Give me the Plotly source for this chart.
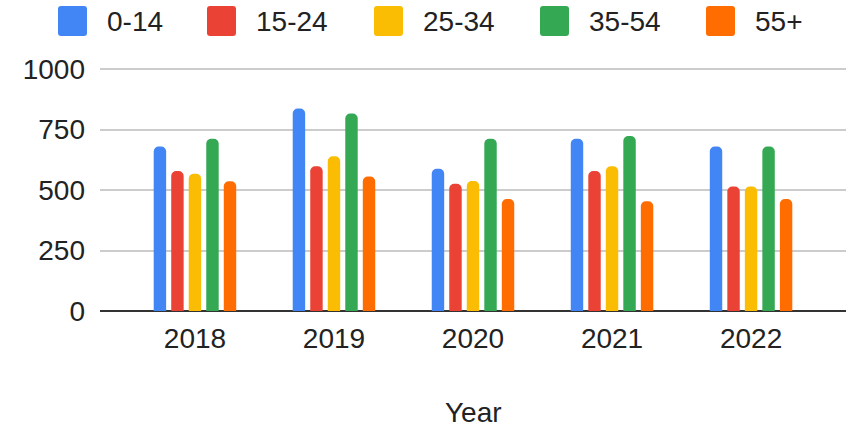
import plotly.graph_objects as go

# Data
years = ["2018", "2019", "2020", "2021", "2022"]
age_groups = ["0-14", "15-24", "25-34", "35-54", "55+"]
age_0_14 = [680, 837, 588, 712, 680]
age_15_24 = [578, 598, 526, 578, 514]
age_25_34 = [567, 639, 537, 598, 514]
age_35_54 = [712, 816, 712, 723, 680]
age_55_plus = [536, 556, 463, 453, 463]
series = [age_0_14, age_15_24, age_25_34, age_35_54, age_55_plus]
colors = ["#4285F4", "#EA4335", "#FBBC04", "#34A853", "#FF6D01"]
y_ticks = [0, 250, 500, 750, 1000]

# Figure geometry (pixels)
W, H = 847, 429
ML, MR, MT, MB = 100, 1, 66, 118
PW, PH = W - ML - MR, H - MT - MB
# 1000 sits at y=69 px; the plot area extends a little above it so the top gridline shows
Y_SCALE = 242 / 1000.0
Y_TOP = PH / Y_SCALE
FONT = "Liberation Sans, Arial, sans-serif"
TEXT = "#222222"

fig = go.Figure()
for name, vals, col in zip(age_groups, series, colors):
    fig.add_trace(go.Bar(x=years, y=vals, name=name, marker_color=col,
                         marker_line_width=0, showlegend=False))


def px_to_paper(px, py):
    return (px - ML) / PW, (H - MB - py) / PH


def rounded_rect(x0, y0, x1, y1, r):
    def p(x, y):
        a, b = px_to_paper(x, y)
        return f"{a:.5f},{b:.5f}"
    return (f"M{p(x0 + r, y0)} L{p(x1 - r, y0)} Q{p(x1, y0)} {p(x1, y0 + r)} "
            f"L{p(x1, y1 - r)} Q{p(x1, y1)} {p(x1 - r, y1)} "
            f"L{p(x0 + r, y1)} Q{p(x0, y1)} {p(x0, y1 - r)} "
            f"L{p(x0, y0 + r)} Q{p(x0, y0)} {p(x0 + r, y0)} Z")


# Legend row drawn across the top
swatch_left = [58, 207, 374, 540, 706]
shapes, annotations = [], []
for left, name, col in zip(swatch_left, age_groups, colors):
    shapes.append(dict(type="path", xref="paper", yref="paper",
                       path=rounded_rect(left, 6, left + 29, 36, 3),
                       fillcolor=col, line=dict(width=0), layer="above"))
    tx, ty = px_to_paper(left + 47, 21)
    annotations.append(dict(x=tx, y=ty, xref="paper", yref="paper", text=name,
                            showarrow=False, xanchor="left", yanchor="middle",
                            font=dict(family=FONT, size=28, color=TEXT)))

# Axis title
tx, ty = px_to_paper(ML + PW / 2, 412)
annotations.append(dict(x=tx, y=ty, xref="paper", yref="paper", text="Year",
                        showarrow=False, xanchor="center", yanchor="middle",
                        font=dict(family=FONT, size=28, color=TEXT)))

fig.update_layout(
    width=W, height=H,
    margin=dict(l=ML, r=MR, t=MT, b=MB, pad=0),
    paper_bgcolor="white", plot_bgcolor="white",
    barmode="group", bargap=0.37, bargroupgap=0.29, barcornerradius=5,
    font=dict(family=FONT, size=28, color=TEXT),
    shapes=shapes, annotations=annotations,
    xaxis=dict(type="category", range=[-0.683, 4.683], showgrid=False,
               showline=False, zeroline=False, ticks="",
               tickfont=dict(family=FONT, size=28, color=TEXT),
               ticklabelstandoff=8),
    yaxis=dict(range=[0, Y_TOP], tickvals=y_ticks, showgrid=True,
               gridcolor="#cccccc", gridwidth=2, zeroline=True,
               zerolinecolor="#333333", zerolinewidth=2, showline=False,
               ticks="", tickfont=dict(family=FONT, size=28, color=TEXT),
               ticklabelstandoff=14),
)

fig.write_html("out.html")
